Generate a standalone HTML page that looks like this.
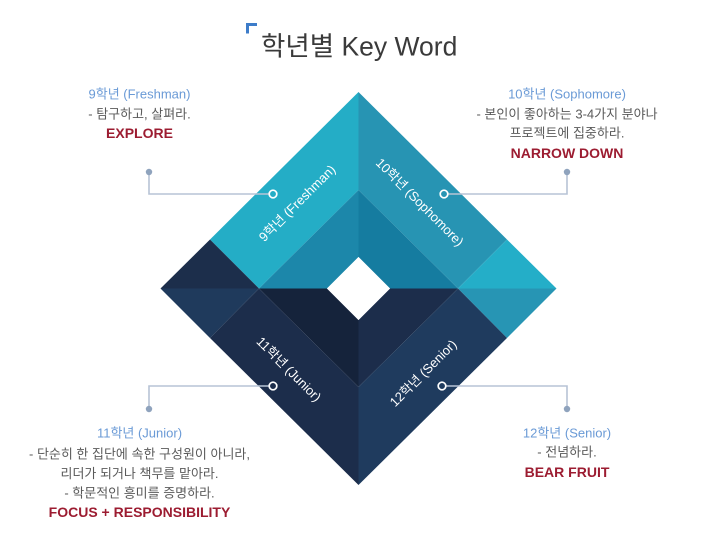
<!DOCTYPE html>
<html>
<head>
<meta charset="utf-8">
<style>
  html, body { margin: 0; padding: 0; background: #ffffff; }
  body { width: 709px; height: 548px; overflow: hidden; }
  svg { display: block; }
  .t { font-family: "Liberation Sans", "Noto Sans CJK KR", sans-serif; }
</style>
</head>
<body>
<svg width="709" height="548" viewBox="0 0 709 548" xmlns="http://www.w3.org/2000/svg">
  <rect x="0" y="0" width="709" height="548" fill="#ffffff"/>

  <!-- Title -->
  <path d="M246,23 H257 V26 H249 V33.5 H246 Z" fill="#3d7cc9"/>
  <text class="t" x="261" y="55.5" font-size="26.5" fill="#3a3a3a">학년별 Key Word</text>

  <!-- Diamond -->
  <polygon points="358.5,92 210,239.5 259,288.5 358.5,190" fill="#24adc6"/>
  <polygon points="358.5,92 358.5,190 458,288.5 507,239.5" fill="#2794b3"/>
  <polygon points="358.5,190 259,288.5 327,288.5 358.5,257" fill="#1c87aa"/>
  <polygon points="358.5,190 358.5,257 390,288.5 458,288.5" fill="#157ca0"/>
  <polygon points="160.5,288.5 210,239.5 259,288.5" fill="#1c2e4b"/>
  <polygon points="160.5,288.5 259,288.5 210,338" fill="#1f3a5c"/>
  <polygon points="458,288.5 507,239.5 556.5,288.5" fill="#24aec8"/>
  <polygon points="458,288.5 556.5,288.5 507,338" fill="#2795b4"/>
  <polygon points="259,288.5 327,288.5 358.5,320 358.5,387" fill="#15233b"/>
  <polygon points="358.5,320 390,288.5 458,288.5 358.5,387" fill="#1c2d4b"/>
  <polygon points="259,288.5 358.5,387 358.5,485 210,338" fill="#1c2d4b"/>
  <polygon points="358.5,387 458,288.5 507,338 358.5,485" fill="#1f3b5e"/>
  <polygon points="358.5,257 390,288.5 358.5,320 327,288.5" fill="#ffffff"/>

  <!-- Connectors -->
  <g fill="none" stroke="#b7c3d5" stroke-width="1.6">
    <polyline points="149,172 149,194 269,194"/>
    <polyline points="567,172 567,194 448,194"/>
    <polyline points="149,409 149,386 269,386"/>
    <polyline points="567,409 567,386 446,386"/>
  </g>
  <g fill="#8fa3bd">
    <circle cx="149" cy="172" r="3.2"/>
    <circle cx="567" cy="172" r="3.2"/>
    <circle cx="149" cy="409" r="3.2"/>
    <circle cx="567" cy="409" r="3.2"/>
  </g>
  <g fill="none" stroke="#ffffff" stroke-width="1.7">
    <circle cx="273" cy="194" r="3.8"/>
    <circle cx="444" cy="194" r="3.8"/>
    <circle cx="273" cy="386" r="3.8"/>
    <circle cx="442" cy="386" r="3.8"/>
  </g>

  <!-- Rotated labels -->
  <g class="t" font-size="13" fill="#ffffff" text-anchor="middle">
    <text transform="translate(297,203) rotate(-45)" x="0" y="4.7">9학년 (Freshman)</text>
    <text transform="translate(420,202) rotate(45)" x="0" y="4.7">10학년 (Sophomore)</text>
    <text transform="translate(289,369) rotate(45)" x="0" y="4.7">11학년 (Junior)</text>
    <text transform="translate(423,373) rotate(-45)" x="0" y="4.7">12학년 (Senior)</text>
  </g>

  <!-- Top-left block -->
  <g class="t" text-anchor="middle">
    <text x="139.5" y="98.5" font-size="13" fill="#6a9ad6">9학년 (Freshman)</text>
    <text x="139.5" y="118.5" font-size="13" fill="#5a5a5a">- 탐구하고, 살펴라.</text>
    <text x="139.5" y="138" font-size="14" font-weight="bold" fill="#9c1c31">EXPLORE</text>
  </g>

  <!-- Top-right block -->
  <g class="t" text-anchor="middle">
    <text x="567" y="98.5" font-size="13" fill="#6a9ad6">10학년 (Sophomore)</text>
    <text x="567" y="118.5" font-size="13" fill="#5a5a5a">- 본인이 좋아하는 3-4가지 분야나</text>
    <text x="567" y="137.5" font-size="13" fill="#5a5a5a">프로젝트에 집중하라.</text>
    <text x="567" y="158" font-size="14" font-weight="bold" fill="#9c1c31">NARROW DOWN</text>
  </g>

  <!-- Bottom-left block -->
  <g class="t" text-anchor="middle">
    <text x="139.5" y="437.5" font-size="13" fill="#6a9ad6">11학년 (Junior)</text>
    <text x="139.5" y="458.5" font-size="13" fill="#5a5a5a">- 단순히 한 집단에 속한 구성원이 아니라,</text>
    <text x="139.5" y="478" font-size="13" fill="#5a5a5a">리더가 되거나 책무를 맡아라.</text>
    <text x="139.5" y="497.5" font-size="13" fill="#5a5a5a">- 학문적인 흥미를 증명하라.</text>
    <text x="139.5" y="517" font-size="14" font-weight="bold" fill="#9c1c31">FOCUS + RESPONSIBILITY</text>
  </g>

  <!-- Bottom-right block -->
  <g class="t" text-anchor="middle">
    <text x="567" y="437.5" font-size="13" fill="#6a9ad6">12학년 (Senior)</text>
    <text x="567" y="456.5" font-size="13" fill="#5a5a5a">- 전념하라.</text>
    <text x="567" y="477" font-size="14" font-weight="bold" fill="#9c1c31">BEAR FRUIT</text>
  </g>
</svg>
</body>
</html>
